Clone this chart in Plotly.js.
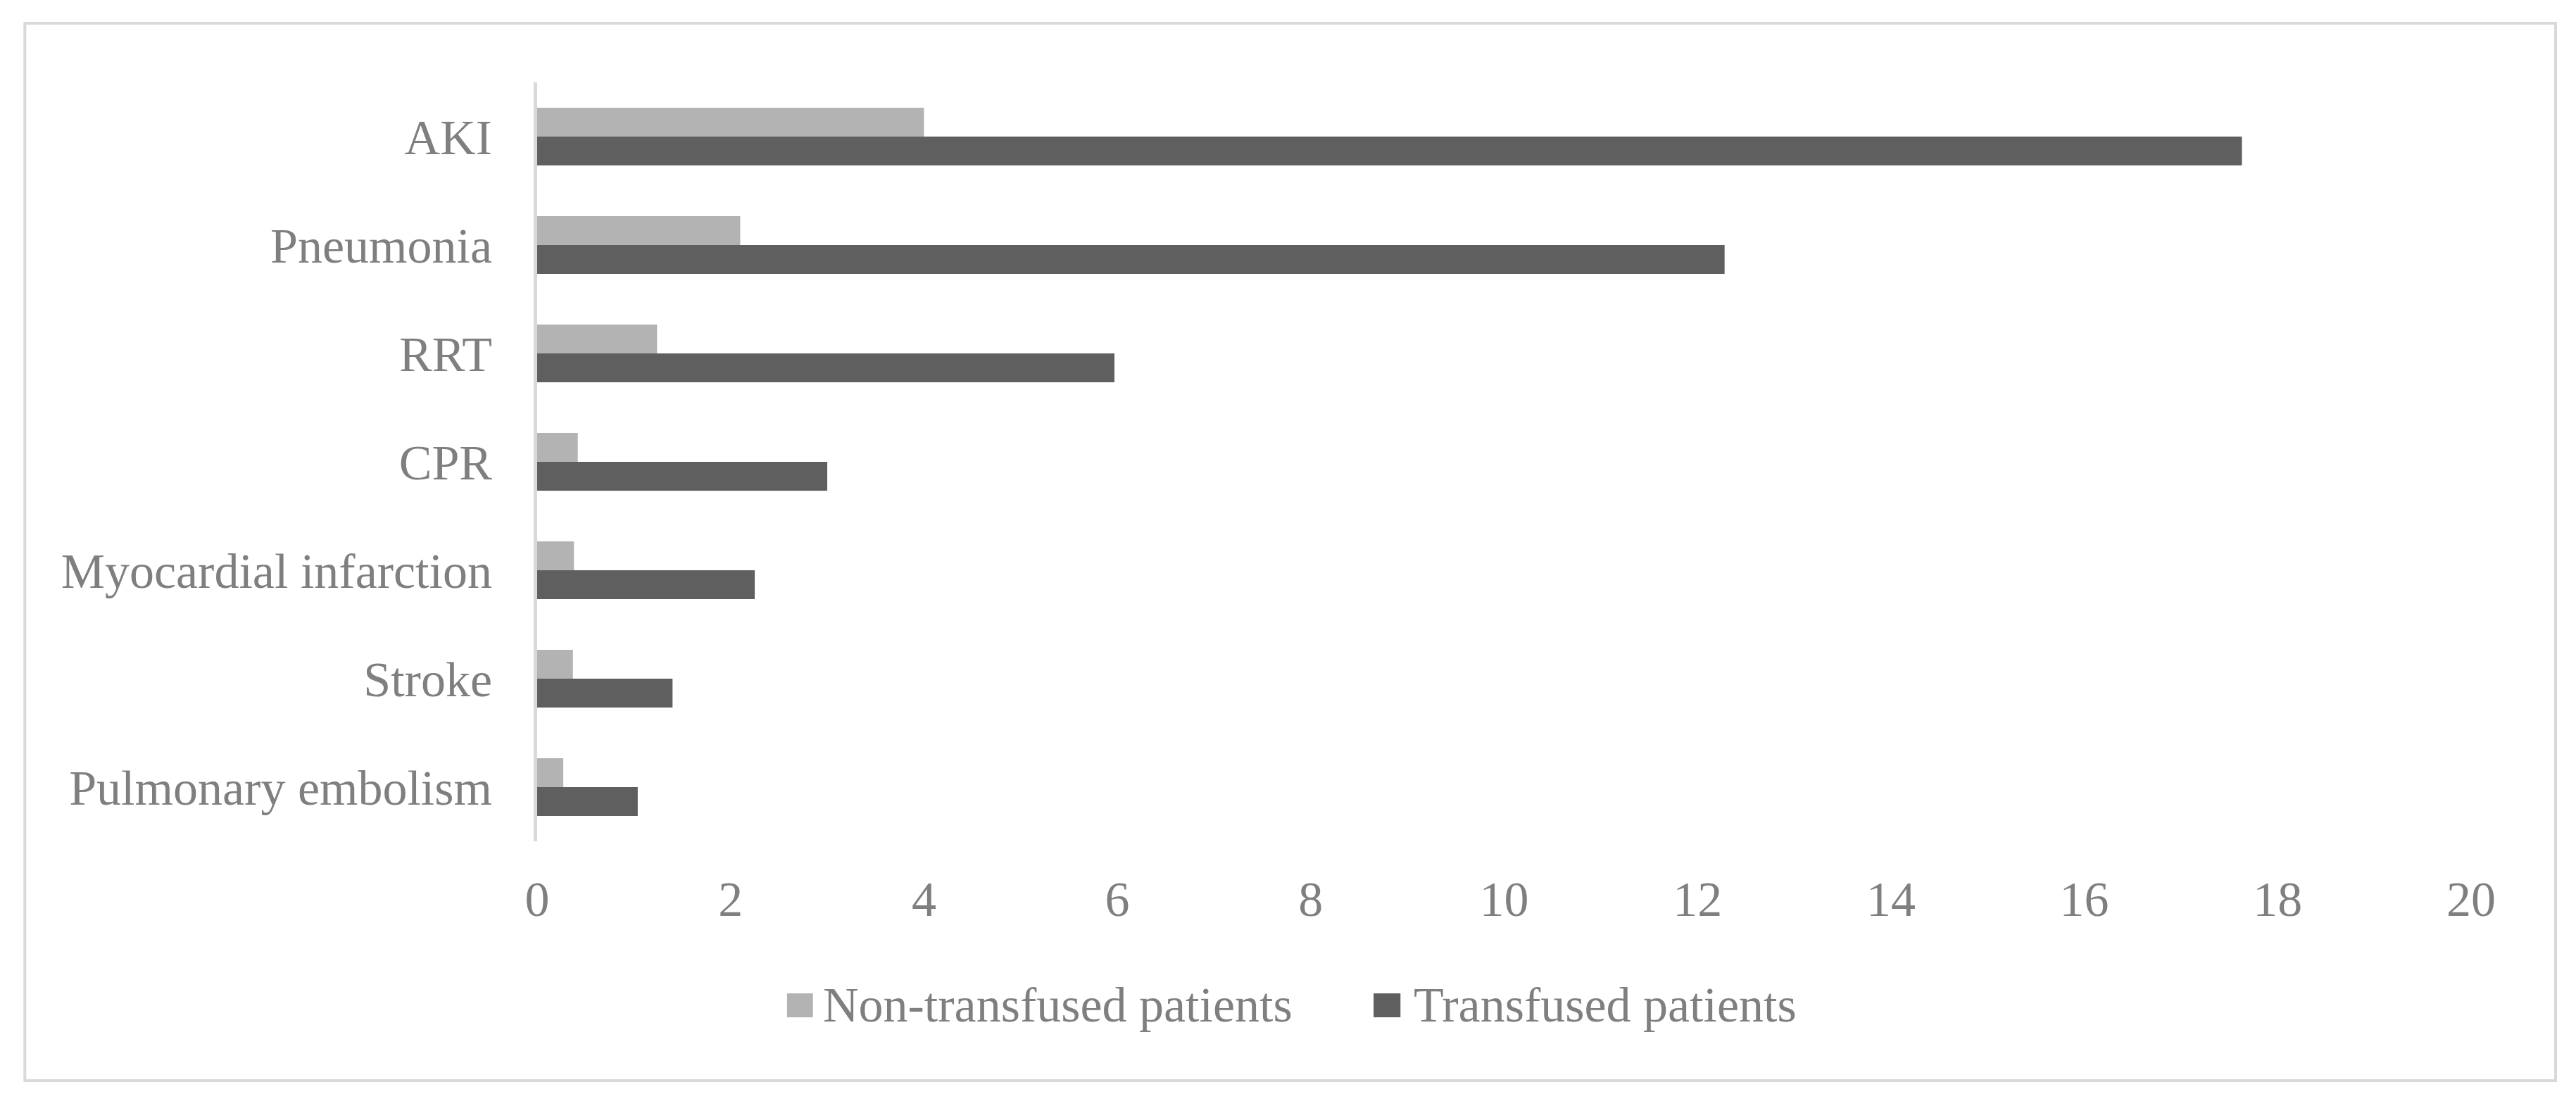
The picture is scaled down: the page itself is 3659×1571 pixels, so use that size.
<!DOCTYPE html>
<html>
<head>
<meta charset="utf-8">
<script src="https://cdn.plot.ly/plotly-3.0.1.min.js"></script>
<style>
  html, body { margin: 0; padding: 0; background: #fff; }
</style>
</head>
<body>
<div id="chart"></div>
<script>
const categories = ["AKI", "Pneumonia", "RRT", "CPR", "Myocardial infarction", "Stroke", "Pulmonary embolism"];
const nonTransfused = [4.0, 2.1, 1.24, 0.42, 0.38, 0.37, 0.27];
const transfused = [17.63, 12.28, 5.97, 3.0, 2.25, 1.4, 1.04];
const seriesNames = ["Non-transfused patients", "Transfused patients"];
const xTicks = [0, 2, 4, 6, 8, 10, 12, 14, 16, 18, 20];

const lightGray = "#b3b3b3";
const darkGray = "#5f5f5f";
const textGray = "#7f7f7f";
const font = { family: "Liberation Serif, Times New Roman, serif", size: 70, color: textGray };

const traces = [
  {
    type: "bar", orientation: "h",
    y: categories, x: nonTransfused,
    name: seriesNames[0],
    marker: { color: lightGray },
    hoverinfo: "x+y"
  },
  {
    type: "bar", orientation: "h",
    y: categories, x: transfused,
    name: seriesNames[1],
    marker: { color: darkGray },
    hoverinfo: "x+y"
  }
];

const layout = {
  width: 3659,
  height: 1571,
  margin: { l: 763, r: 149, t: 117, b: 376, pad: 0 },
  paper_bgcolor: "#fff",
  plot_bgcolor: "#fff",
  font: font,
  showlegend: false,
  barmode: "group",
  bargap: 0.468,
  bargroupgap: 0,
  xaxis: {
    range: [0, 20],
    tickvals: xTicks,
    ticktext: xTicks.map(String),
    showgrid: false,
    zeroline: false,
    showline: false,
    ticks: "",
    ticklabelstandoff: 35,
    tickfont: font,
    fixedrange: true
  },
  yaxis: {
    type: "category",
    autorange: "reversed",
    showgrid: false,
    zeroline: false,
    showline: true,
    linecolor: "#d9d9d9",
    linewidth: 5,
    ticks: "",
    ticklabelstandoff: 45,
    tickfont: font,
    fixedrange: true
  },
  shapes: [
    // outer frame
    { type: "rect", xref: "paper", yref: "paper",
      x0: -0.2649, x1: 1.0437, y0: -0.3154, y1: 1.0779,
      line: { color: "#d9d9d9", width: 4 }, fillcolor: "rgba(0,0,0,0)", layer: "below" },
    // legend swatches
    { type: "rect", xref: "paper", yref: "paper",
      x0: 0.1292, x1: 0.1426, y0: -0.2319, y1: -0.2004,
      line: { width: 0 }, fillcolor: lightGray },
    { type: "rect", xref: "paper", yref: "paper",
      x0: 0.4325, x1: 0.4464, y0: -0.2319, y1: -0.2004,
      line: { width: 0 }, fillcolor: darkGray }
  ],
  annotations: [
    { xref: "paper", yref: "paper", x: 0.1470, y: -0.2161, xanchor: "left", yanchor: "middle",
      text: seriesNames[0], showarrow: false, font: font },
    { xref: "paper", yref: "paper", x: 0.4526, y: -0.2161, xanchor: "left", yanchor: "middle",
      text: seriesNames[1], showarrow: false, font: font }
  ]
};

Plotly.newPlot("chart", traces, layout, { displayModeBar: false, staticPlot: true });
</script>
</body>
</html>
